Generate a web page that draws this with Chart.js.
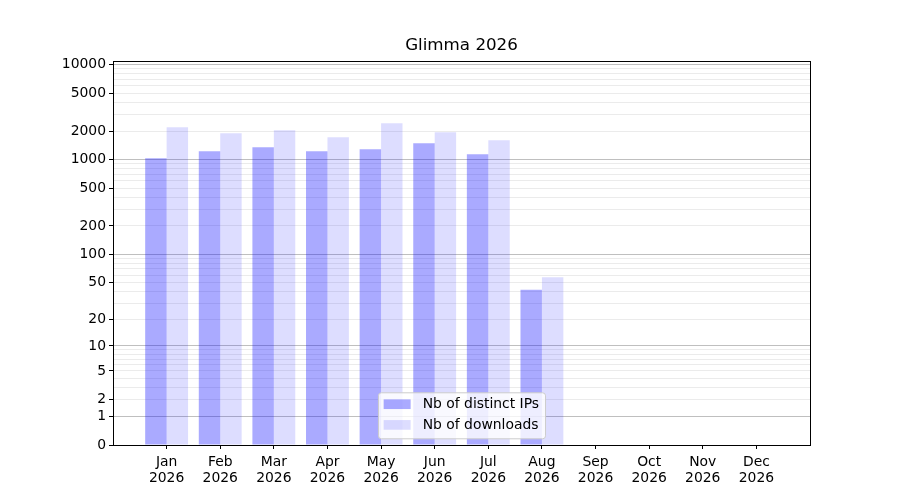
<!DOCTYPE html>
<html>
<head>
<meta charset="utf-8">
<script src="https://cdn.jsdelivr.net/npm/chart.js@4"></script>
<style>
  html, body { margin: 0; padding: 0; background: #fff; }
  #wrap { width: 900px; height: 500px; }
</style>
</head>
<body>
<div id="wrap"><canvas id="glimmaChart" width="900" height="500"></canvas></div>
<script>
const months = ['Jan', 'Feb', 'Mar', 'Apr', 'May', 'Jun', 'Jul', 'Aug', 'Sep', 'Oct', 'Nov', 'Dec'];
const year = '2026';
const distinctIPs = [1035, 1225, 1350, 1225, 1285, 1487, 1140, 42, 0, 0, 0, 0];
const downloads = [2190, 1893, 2040, 1720, 2410, 1940, 1600, 57, 0, 0, 0, 0];
const yTickLabels = [0, 1, 2, 5, 10, 20, 50, 100, 200, 500, 1000, 2000, 5000, 10000];
const yMinorTicks = [3, 4, 6, 7, 8, 9, 30, 40, 60, 70, 80, 90, 300, 400, 600, 700, 800, 900,
                     3000, 4000, 6000, 7000, 8000, 9000];
const yDecades = [1, 10, 100, 1000, 10000];

// log(1 + x) scale, so 0 sits on the axis
const tf = v => Math.log10(1 + v);
const yMax = 4.037;
const FONT = 'DejaVu Sans';

const allYTicks = yTickLabels.concat(yMinorTicks).sort((a, b) => a - b);
const near = (a, b) => Math.abs(a - b) < 1e-6;
const rawOf = v => allYTicks.find(t => near(tf(t), v));

const frame = {
    id: 'frame',
    afterDatasetsDraw(chart) {
        const a = chart.chartArea;
        const ctx = chart.ctx;
        ctx.save();
        ctx.strokeStyle = '#000';
        ctx.lineWidth = 1;
        ctx.strokeRect(Math.round(a.left) + 0.5, Math.round(a.top) + 0.5,
                       Math.round(a.right - a.left), Math.round(a.bottom - a.top));
        ctx.restore();
    }
};

const boxLegend = {
    id: 'boxLegend',
    afterDatasetsDraw(chart) {
        const a = chart.chartArea;
        const ctx = chart.ctx;
        const sets = chart.data.datasets;
        ctx.save();
        ctx.font = '13.9px "' + FONT + '"';
        const textW = Math.max(...sets.map(s => ctx.measureText(s.label).width));
        const w = 5.7 + 27 + 12 + textW + 6;
        const h = 46;
        const x0 = (a.left + a.right) / 2 - w / 2;
        const y0 = a.bottom - 6.7 - h;
        ctx.beginPath();
        ctx.roundRect(x0 + 0.5, y0 + 0.5, w, h, 3);
        ctx.fillStyle = 'rgba(255,255,255,0.8)';
        ctx.fill();
        ctx.strokeStyle = '#cccccc';
        ctx.lineWidth = 1;
        ctx.stroke();
        sets.forEach((s, i) => {
            const cy = y0 + 11.9 + i * 20.7;
            ctx.fillStyle = s.backgroundColor;
            ctx.fillRect(x0 + 5.7, cy - 4.85, 27, 9.7);
            ctx.fillStyle = '#000';
            ctx.textBaseline = 'middle';
            ctx.textAlign = 'left';
            ctx.fillText(s.label, x0 + 5.7 + 27 + 12, cy);
        });
        ctx.restore();
    }
};

const config = {
    type: 'bar',
    data: {
        datasets: [{
            label: 'Nb of distinct IPs',
            data: distinctIPs.map((v, i) => ({ x: i + 1, y: tf(v) })),
            backgroundColor: 'rgba(0,0,255,0.333)',
            borderWidth: 0,
            inflateAmount: 0
        }, {
            label: 'Nb of downloads',
            data: downloads.map((v, i) => ({ x: i + 1, y: tf(v) })),
            backgroundColor: 'rgba(0,0,255,0.133)',
            borderWidth: 0,
            inflateAmount: 0
        }]
    },
    options: {
        responsive: false,
        animation: false,
        layout: { padding: { left: 0, right: 90, top: 0, bottom: 0 } },
        categoryPercentage: 0.8,
        barPercentage: 1.0,
        plugins: {
            legend: { display: false },
            tooltip: { enabled: false },
            title: {
                display: true,
                text: 'Glimma ' + year,
                fullSize: false,
                color: '#000',
                font: { family: FONT, size: 16.7, weight: 'normal' },
                padding: { top: 36, bottom: 5 }
            }
        },
        scales: {
            x: {
                type: 'linear',
                min: 0,
                max: months.length + 1,
                offset: false,
                afterBuildTicks(scale) {
                    scale.ticks = months.map((m, i) => ({ value: i + 1 }));
                },
                afterFit(scale) { scale.height = 55; },
                ticks: {
                    autoSkip: false,
                    maxRotation: 0,
                    padding: 5,
                    color: '#000',
                    font: { family: FONT, size: 13.9, lineHeight: 1.17 },
                    callback: v => [months[v - 1], year]
                },
                grid: {
                    offset: false,
                    drawOnChartArea: false,
                    drawTicks: true,
                    tickLength: 4,
                    tickColor: '#000'
                },
                border: { color: '#000', width: 1 }
            },
            y: {
                type: 'linear',
                min: 0,
                max: yMax,
                afterBuildTicks(scale) {
                    scale.ticks = allYTicks.map(t => ({ value: tf(t) }));
                },
                afterFit(scale) { scale.width = 113; },
                ticks: {
                    autoSkip: false,
                    padding: 3,
                    color: '#000',
                    font: { family: FONT, size: 13.9 },
                    callback: v => {
                        const r = rawOf(v);
                        return yTickLabels.includes(r) ? String(r) : '';
                    }
                },
                grid: {
                    drawTicks: true,
                    tickLength: 4,
                    color: c => {
                        const r = rawOf(c.tick.value);
                        if (r === 0) return 'rgba(0,0,0,0)';
                        return yDecades.includes(r) ? 'rgba(0,0,0,0.25)' : 'rgba(0,0,0,0.08)';
                    },
                    tickColor: c => {
                        const r = rawOf(c.tick.value);
                        return yTickLabels.includes(r) ? '#000' : 'rgba(0,0,0,0)';
                    }
                },
                border: { color: '#000', width: 1 }
            }
        }
    },
    plugins: [frame, boxLegend]
};

window.onload = function() {
    const ctx = document.getElementById('glimmaChart').getContext('2d');
    new Chart(ctx, config);
};
</script>
</body>
</html>
